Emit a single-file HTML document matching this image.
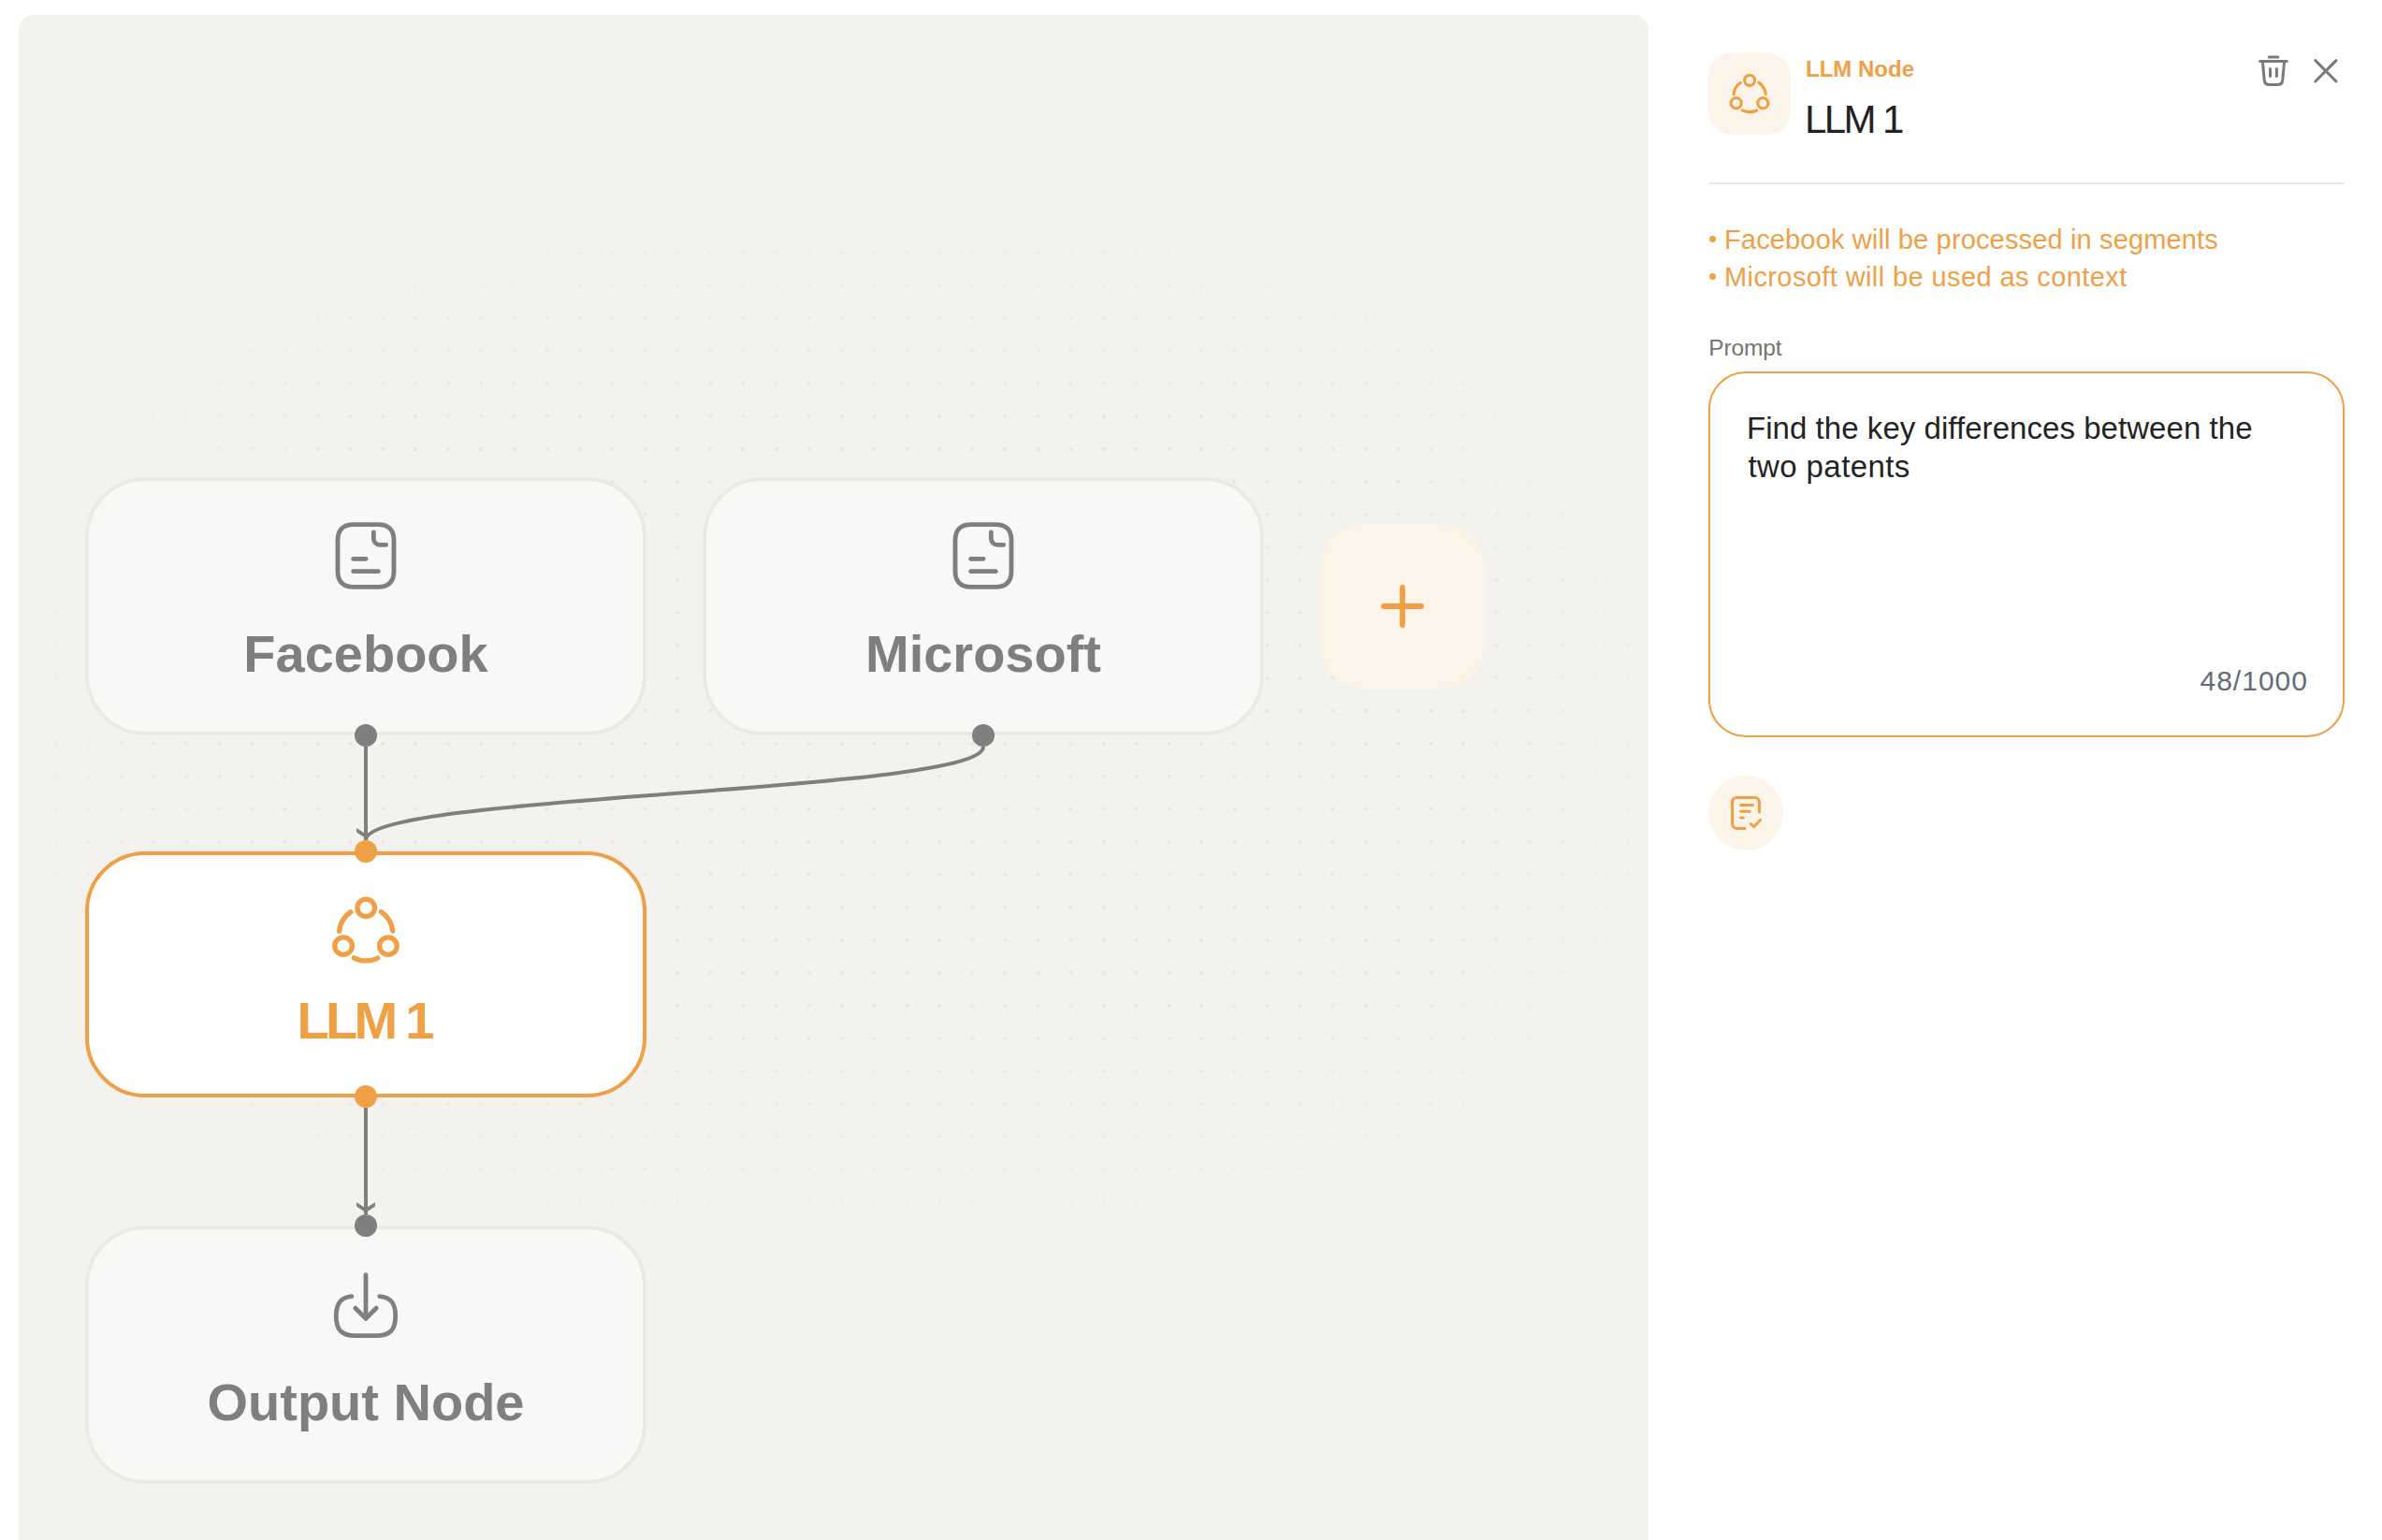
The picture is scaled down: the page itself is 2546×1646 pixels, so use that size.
<!DOCTYPE html>
<html>
<head>
<meta charset="utf-8">
<style>
html,body{margin:0;padding:0;}
body{width:2546px;height:1646px;overflow:hidden;background:#ffffff;position:relative;font-family:"Liberation Sans",sans-serif;}
.abs{position:absolute;}
#canvas{left:20px;top:16px;width:1742px;height:1650px;background:#F3F2EE;border-radius:16px 16px 0 0;overflow:hidden;}

.node{box-sizing:border-box;width:600px;height:276px;border:4px solid #EBE9E4;border-radius:64px;background:#F9F8F6;}
.ntxt{left:0;width:600px;text-align:center;font-weight:700;font-size:56px;line-height:56px;color:#7F7F7F;white-space:nowrap;}
svg{position:absolute;overflow:visible;}
</style>
</head>
<body>
<div id="canvas" class="abs"></div>
<svg id="dotsvg" style="left:0;top:0;" width="1762" height="1646" viewBox="0 0 1762 1646"><g fill="none" stroke="#E7E6E5" stroke-width="4.2" stroke-linecap="round"><path stroke-opacity="0.05" d="M269.5 269.8h0M1529.5 269.8h0M234.5 304.8h0M1564.5 304.8h0M1704.5 444.8h0M24.5 1039.8h0M59.5 1109.8h0M1739.5 1109.8h0M94.5 1144.8h0M1704.5 1144.8h0M199.5 1249.8h0M1599.5 1249.8h0M234.5 1284.8h0M1564.5 1284.8h0"/><path stroke-opacity="0.1" d="M304.5 269.8h0M339.5 269.8h0M1459.5 269.8h0M1494.5 269.8h0M269.5 304.8h0M1529.5 304.8h0M199.5 339.8h0M1599.5 339.8h0M164.5 374.8h0M1634.5 374.8h0M129.5 409.8h0M1669.5 409.8h0M94.5 444.8h0M59.5 514.8h0M1739.5 514.8h0M24.5 584.8h0M24.5 619.8h0M24.5 1004.8h0M59.5 1074.8h0M1739.5 1074.8h0M129.5 1179.8h0M1669.5 1179.8h0M164.5 1214.8h0M1634.5 1214.8h0M234.5 1249.8h0M1564.5 1249.8h0M269.5 1284.8h0M304.5 1284.8h0M1494.5 1284.8h0M1529.5 1284.8h0"/><path stroke-opacity="0.15" d="M374.5 269.8h0M1424.5 269.8h0M304.5 304.8h0M1494.5 304.8h0M234.5 339.8h0M1564.5 339.8h0M199.5 374.8h0M1599.5 374.8h0M94.5 479.8h0M1704.5 479.8h0M59.5 549.8h0M1739.5 549.8h0M24.5 654.8h0M24.5 934.8h0M24.5 969.8h0M59.5 1039.8h0M1739.5 1039.8h0M94.5 1109.8h0M1704.5 1109.8h0M129.5 1144.8h0M1669.5 1144.8h0M164.5 1179.8h0M1634.5 1179.8h0M199.5 1214.8h0M1599.5 1214.8h0M269.5 1249.8h0M1529.5 1249.8h0M339.5 1284.8h0M374.5 1284.8h0M1424.5 1284.8h0M1459.5 1284.8h0"/><path stroke-opacity="0.2" d="M409.5 269.8h0M444.5 269.8h0M1354.5 269.8h0M1389.5 269.8h0M339.5 304.8h0M1459.5 304.8h0M269.5 339.8h0M1529.5 339.8h0M164.5 409.8h0M1634.5 409.8h0M129.5 444.8h0M1669.5 444.8h0M94.5 514.8h0M1704.5 514.8h0M59.5 584.8h0M1739.5 584.8h0M24.5 689.8h0M24.5 724.8h0M24.5 759.8h0M24.5 794.8h0M24.5 829.8h0M24.5 864.8h0M24.5 899.8h0M59.5 1004.8h0M1739.5 1004.8h0M94.5 1074.8h0M1704.5 1074.8h0M199.5 1179.8h0M1599.5 1179.8h0M234.5 1214.8h0M1564.5 1214.8h0M304.5 1249.8h0M339.5 1249.8h0M1459.5 1249.8h0M1494.5 1249.8h0M409.5 1284.8h0M444.5 1284.8h0M479.5 1284.8h0M1319.5 1284.8h0M1354.5 1284.8h0M1389.5 1284.8h0"/><path stroke-opacity="0.25" d="M479.5 269.8h0M514.5 269.8h0M1284.5 269.8h0M1319.5 269.8h0M374.5 304.8h0M1424.5 304.8h0M304.5 339.8h0M1494.5 339.8h0M234.5 374.8h0M1564.5 374.8h0M1599.5 409.8h0M129.5 479.8h0M1669.5 479.8h0M94.5 549.8h0M1704.5 549.8h0M59.5 619.8h0M1739.5 619.8h0M1739.5 654.8h0M59.5 969.8h0M1739.5 969.8h0M129.5 1109.8h0M1669.5 1109.8h0M164.5 1144.8h0M1634.5 1144.8h0M269.5 1214.8h0M1529.5 1214.8h0M374.5 1249.8h0M1424.5 1249.8h0M514.5 1284.8h0M549.5 1284.8h0M1249.5 1284.8h0M1284.5 1284.8h0"/><path stroke-opacity="0.3" d="M549.5 269.8h0M584.5 269.8h0M1214.5 269.8h0M1249.5 269.8h0M409.5 304.8h0M1389.5 304.8h0M339.5 339.8h0M1459.5 339.8h0M269.5 374.8h0M1529.5 374.8h0M199.5 409.8h0M164.5 444.8h0M1634.5 444.8h0M1669.5 514.8h0M94.5 584.8h0M1704.5 584.8h0M59.5 654.8h0M59.5 689.8h0M1739.5 689.8h0M1739.5 724.8h0M59.5 899.8h0M1739.5 899.8h0M59.5 934.8h0M1739.5 934.8h0M94.5 1039.8h0M1704.5 1039.8h0M1669.5 1074.8h0M199.5 1144.8h0M1599.5 1144.8h0M234.5 1179.8h0M1564.5 1179.8h0M304.5 1214.8h0M1494.5 1214.8h0M409.5 1249.8h0M444.5 1249.8h0M1354.5 1249.8h0M1389.5 1249.8h0M584.5 1284.8h0M619.5 1284.8h0M654.5 1284.8h0M689.5 1284.8h0M724.5 1284.8h0M759.5 1284.8h0M794.5 1284.8h0M829.5 1284.8h0M864.5 1284.8h0M899.5 1284.8h0M934.5 1284.8h0M969.5 1284.8h0M1004.5 1284.8h0M1039.5 1284.8h0M1074.5 1284.8h0M1109.5 1284.8h0M1144.5 1284.8h0M1179.5 1284.8h0M1214.5 1284.8h0"/><path stroke-opacity="0.35" d="M619.5 269.8h0M654.5 269.8h0M689.5 269.8h0M1109.5 269.8h0M1144.5 269.8h0M1179.5 269.8h0M444.5 304.8h0M479.5 304.8h0M1319.5 304.8h0M1354.5 304.8h0M1424.5 339.8h0M234.5 409.8h0M1564.5 409.8h0M164.5 479.8h0M1634.5 479.8h0M129.5 514.8h0M94.5 619.8h0M1704.5 619.8h0M59.5 724.8h0M59.5 759.8h0M1739.5 759.8h0M59.5 794.8h0M1739.5 794.8h0M59.5 829.8h0M1739.5 829.8h0M59.5 864.8h0M1739.5 864.8h0M94.5 969.8h0M1704.5 969.8h0M94.5 1004.8h0M1704.5 1004.8h0M129.5 1074.8h0M164.5 1109.8h0M1634.5 1109.8h0M269.5 1179.8h0M1529.5 1179.8h0M339.5 1214.8h0M1459.5 1214.8h0M479.5 1249.8h0M1319.5 1249.8h0"/><path stroke-opacity="0.4" d="M724.5 269.8h0M759.5 269.8h0M794.5 269.8h0M829.5 269.8h0M864.5 269.8h0M899.5 269.8h0M934.5 269.8h0M969.5 269.8h0M1004.5 269.8h0M1039.5 269.8h0M1074.5 269.8h0M514.5 304.8h0M1284.5 304.8h0M374.5 339.8h0M304.5 374.8h0M1494.5 374.8h0M199.5 444.8h0M1599.5 444.8h0M129.5 549.8h0M1669.5 549.8h0M94.5 654.8h0M1704.5 654.8h0M1704.5 689.8h0M94.5 934.8h0M1704.5 934.8h0M129.5 1039.8h0M1669.5 1039.8h0M199.5 1109.8h0M1599.5 1109.8h0M234.5 1144.8h0M1564.5 1144.8h0M304.5 1179.8h0M1494.5 1179.8h0M374.5 1214.8h0M1389.5 1214.8h0M1424.5 1214.8h0M514.5 1249.8h0M549.5 1249.8h0M584.5 1249.8h0M619.5 1249.8h0M654.5 1249.8h0M689.5 1249.8h0M724.5 1249.8h0M759.5 1249.8h0M794.5 1249.8h0M829.5 1249.8h0M864.5 1249.8h0M899.5 1249.8h0M934.5 1249.8h0M969.5 1249.8h0M1004.5 1249.8h0M1039.5 1249.8h0M1074.5 1249.8h0M1109.5 1249.8h0M1144.5 1249.8h0M1179.5 1249.8h0M1214.5 1249.8h0M1249.5 1249.8h0M1284.5 1249.8h0"/><path stroke-opacity="0.45" d="M549.5 304.8h0M584.5 304.8h0M1214.5 304.8h0M1249.5 304.8h0M409.5 339.8h0M1389.5 339.8h0M339.5 374.8h0M1459.5 374.8h0M269.5 409.8h0M1529.5 409.8h0M164.5 514.8h0M1634.5 514.8h0M129.5 584.8h0M1669.5 584.8h0M94.5 689.8h0M94.5 724.8h0M1704.5 724.8h0M94.5 759.8h0M1704.5 759.8h0M94.5 794.8h0M1704.5 794.8h0M94.5 829.8h0M1704.5 829.8h0M94.5 864.8h0M1704.5 864.8h0M94.5 899.8h0M1704.5 899.8h0M129.5 1004.8h0M1669.5 1004.8h0M164.5 1074.8h0M1634.5 1074.8h0M269.5 1144.8h0M1529.5 1144.8h0M339.5 1179.8h0M1459.5 1179.8h0M409.5 1214.8h0M444.5 1214.8h0M1354.5 1214.8h0"/><path stroke-opacity="0.5" d="M619.5 304.8h0M654.5 304.8h0M689.5 304.8h0M724.5 304.8h0M759.5 304.8h0M794.5 304.8h0M829.5 304.8h0M864.5 304.8h0M899.5 304.8h0M934.5 304.8h0M969.5 304.8h0M1004.5 304.8h0M1039.5 304.8h0M1074.5 304.8h0M1109.5 304.8h0M1144.5 304.8h0M1179.5 304.8h0M444.5 339.8h0M1354.5 339.8h0M234.5 444.8h0M1564.5 444.8h0M199.5 479.8h0M1599.5 479.8h0M164.5 549.8h0M1634.5 549.8h0M129.5 619.8h0M1669.5 619.8h0M129.5 654.8h0M1669.5 654.8h0M129.5 969.8h0M1669.5 969.8h0M164.5 1039.8h0M1634.5 1039.8h0M234.5 1109.8h0M1564.5 1109.8h0M1424.5 1179.8h0M479.5 1214.8h0M514.5 1214.8h0M549.5 1214.8h0M584.5 1214.8h0M619.5 1214.8h0M654.5 1214.8h0M689.5 1214.8h0M724.5 1214.8h0M759.5 1214.8h0M794.5 1214.8h0M829.5 1214.8h0M864.5 1214.8h0M899.5 1214.8h0M934.5 1214.8h0M969.5 1214.8h0M1004.5 1214.8h0M1039.5 1214.8h0M1074.5 1214.8h0M1109.5 1214.8h0M1144.5 1214.8h0M1179.5 1214.8h0M1214.5 1214.8h0M1249.5 1214.8h0M1284.5 1214.8h0M1319.5 1214.8h0"/><path stroke-opacity="0.55" d="M479.5 339.8h0M514.5 339.8h0M1284.5 339.8h0M1319.5 339.8h0M374.5 374.8h0M1424.5 374.8h0M304.5 409.8h0M1494.5 409.8h0M199.5 514.8h0M1599.5 514.8h0M164.5 584.8h0M1634.5 584.8h0M129.5 689.8h0M1669.5 689.8h0M129.5 724.8h0M1669.5 724.8h0M1669.5 864.8h0M129.5 899.8h0M1669.5 899.8h0M129.5 934.8h0M1669.5 934.8h0M164.5 1004.8h0M1634.5 1004.8h0M199.5 1074.8h0M1599.5 1074.8h0M304.5 1144.8h0M1494.5 1144.8h0M374.5 1179.8h0"/><path stroke-opacity="0.6" d="M549.5 339.8h0M1249.5 339.8h0M409.5 374.8h0M1389.5 374.8h0M339.5 409.8h0M1459.5 409.8h0M269.5 444.8h0M1529.5 444.8h0M234.5 479.8h0M1564.5 479.8h0M199.5 549.8h0M1599.5 549.8h0M164.5 619.8h0M1634.5 619.8h0M129.5 759.8h0M1669.5 759.8h0M129.5 794.8h0M1669.5 794.8h0M129.5 829.8h0M1669.5 829.8h0M129.5 864.8h0M164.5 969.8h0M1634.5 969.8h0M269.5 1109.8h0M1529.5 1109.8h0M339.5 1144.8h0M1459.5 1144.8h0M409.5 1179.8h0M1389.5 1179.8h0"/><path stroke-opacity="0.65" d="M584.5 339.8h0M619.5 339.8h0M654.5 339.8h0M689.5 339.8h0M724.5 339.8h0M759.5 339.8h0M794.5 339.8h0M829.5 339.8h0M864.5 339.8h0M899.5 339.8h0M934.5 339.8h0M969.5 339.8h0M1004.5 339.8h0M1039.5 339.8h0M1074.5 339.8h0M1109.5 339.8h0M1144.5 339.8h0M1179.5 339.8h0M1214.5 339.8h0M444.5 374.8h0M1354.5 374.8h0M234.5 514.8h0M1564.5 514.8h0M199.5 584.8h0M1599.5 584.8h0M164.5 654.8h0M1634.5 654.8h0M164.5 689.8h0M1634.5 689.8h0M164.5 934.8h0M1634.5 934.8h0M199.5 1039.8h0M1599.5 1039.8h0M234.5 1074.8h0M1564.5 1074.8h0M444.5 1179.8h0M479.5 1179.8h0M514.5 1179.8h0M549.5 1179.8h0M584.5 1179.8h0M619.5 1179.8h0M654.5 1179.8h0M689.5 1179.8h0M724.5 1179.8h0M759.5 1179.8h0M794.5 1179.8h0M829.5 1179.8h0M864.5 1179.8h0M899.5 1179.8h0M934.5 1179.8h0M969.5 1179.8h0M1004.5 1179.8h0M1039.5 1179.8h0M1074.5 1179.8h0M1109.5 1179.8h0M1144.5 1179.8h0M1179.5 1179.8h0M1214.5 1179.8h0M1249.5 1179.8h0M1284.5 1179.8h0M1319.5 1179.8h0M1354.5 1179.8h0"/><path stroke-opacity="0.7" d="M479.5 374.8h0M1319.5 374.8h0M374.5 409.8h0M1424.5 409.8h0M304.5 444.8h0M1494.5 444.8h0M269.5 479.8h0M1529.5 479.8h0M199.5 619.8h0M1599.5 619.8h0M164.5 724.8h0M1634.5 724.8h0M164.5 759.8h0M1634.5 759.8h0M164.5 794.8h0M1634.5 794.8h0M164.5 829.8h0M1634.5 829.8h0M164.5 864.8h0M1634.5 864.8h0M164.5 899.8h0M1634.5 899.8h0M199.5 1004.8h0M1599.5 1004.8h0M304.5 1109.8h0M1494.5 1109.8h0M374.5 1144.8h0M1424.5 1144.8h0"/><path stroke-opacity="0.75" d="M514.5 374.8h0M549.5 374.8h0M584.5 374.8h0M619.5 374.8h0M654.5 374.8h0M689.5 374.8h0M724.5 374.8h0M759.5 374.8h0M794.5 374.8h0M829.5 374.8h0M864.5 374.8h0M899.5 374.8h0M934.5 374.8h0M969.5 374.8h0M1004.5 374.8h0M1039.5 374.8h0M1074.5 374.8h0M1109.5 374.8h0M1144.5 374.8h0M1179.5 374.8h0M1214.5 374.8h0M1249.5 374.8h0M1284.5 374.8h0M269.5 514.8h0M1529.5 514.8h0M234.5 549.8h0M1564.5 549.8h0M199.5 654.8h0M1599.5 654.8h0M199.5 934.8h0M1599.5 934.8h0M199.5 969.8h0M1599.5 969.8h0M234.5 1039.8h0M1564.5 1039.8h0M269.5 1074.8h0M1529.5 1074.8h0M409.5 1144.8h0M444.5 1144.8h0M479.5 1144.8h0M514.5 1144.8h0M549.5 1144.8h0M584.5 1144.8h0M619.5 1144.8h0M654.5 1144.8h0M689.5 1144.8h0M724.5 1144.8h0M759.5 1144.8h0M794.5 1144.8h0M829.5 1144.8h0M864.5 1144.8h0M899.5 1144.8h0M934.5 1144.8h0M969.5 1144.8h0M1004.5 1144.8h0M1039.5 1144.8h0M1074.5 1144.8h0M1109.5 1144.8h0M1144.5 1144.8h0M1179.5 1144.8h0M1214.5 1144.8h0M1249.5 1144.8h0M1284.5 1144.8h0M1319.5 1144.8h0M1354.5 1144.8h0M1389.5 1144.8h0"/><path stroke-opacity="0.8" d="M409.5 409.8h0M1389.5 409.8h0M339.5 444.8h0M1459.5 444.8h0M304.5 479.8h0M1494.5 479.8h0M234.5 584.8h0M1564.5 584.8h0M199.5 689.8h0M1599.5 689.8h0M199.5 724.8h0M1599.5 724.8h0M1599.5 864.8h0M199.5 899.8h0M1599.5 899.8h0M234.5 1004.8h0M1564.5 1004.8h0M339.5 1109.8h0M1459.5 1109.8h0"/><path stroke-opacity="0.85" d="M444.5 409.8h0M479.5 409.8h0M514.5 409.8h0M549.5 409.8h0M584.5 409.8h0M619.5 409.8h0M654.5 409.8h0M689.5 409.8h0M724.5 409.8h0M759.5 409.8h0M794.5 409.8h0M829.5 409.8h0M864.5 409.8h0M899.5 409.8h0M934.5 409.8h0M969.5 409.8h0M1004.5 409.8h0M1039.5 409.8h0M1074.5 409.8h0M1109.5 409.8h0M1144.5 409.8h0M1179.5 409.8h0M1214.5 409.8h0M1249.5 409.8h0M1284.5 409.8h0M1319.5 409.8h0M1354.5 409.8h0M269.5 549.8h0M1529.5 549.8h0M234.5 619.8h0M1564.5 619.8h0M199.5 759.8h0M1599.5 759.8h0M199.5 794.8h0M1599.5 794.8h0M199.5 829.8h0M1599.5 829.8h0M199.5 864.8h0M234.5 969.8h0M1564.5 969.8h0M269.5 1039.8h0M1529.5 1039.8h0M304.5 1074.8h0M1494.5 1074.8h0M374.5 1109.8h0M409.5 1109.8h0M444.5 1109.8h0M479.5 1109.8h0M514.5 1109.8h0M549.5 1109.8h0M584.5 1109.8h0M619.5 1109.8h0M654.5 1109.8h0M689.5 1109.8h0M724.5 1109.8h0M759.5 1109.8h0M794.5 1109.8h0M829.5 1109.8h0M864.5 1109.8h0M899.5 1109.8h0M934.5 1109.8h0M969.5 1109.8h0M1004.5 1109.8h0M1039.5 1109.8h0M1074.5 1109.8h0M1109.5 1109.8h0M1144.5 1109.8h0M1179.5 1109.8h0M1214.5 1109.8h0M1249.5 1109.8h0M1284.5 1109.8h0M1319.5 1109.8h0M1354.5 1109.8h0M1389.5 1109.8h0M1424.5 1109.8h0"/><path stroke-opacity="0.9" d="M374.5 444.8h0M1424.5 444.8h0M339.5 479.8h0M1459.5 479.8h0M304.5 514.8h0M1494.5 514.8h0M269.5 584.8h0M1529.5 584.8h0M234.5 654.8h0M1564.5 654.8h0M234.5 689.8h0M1564.5 689.8h0M1564.5 899.8h0M234.5 934.8h0M1564.5 934.8h0M269.5 1004.8h0M1529.5 1004.8h0"/><path stroke-opacity="0.95" d="M304.5 549.8h0M1494.5 549.8h0M269.5 619.8h0M1529.5 619.8h0M234.5 724.8h0M1564.5 724.8h0M234.5 759.8h0M1564.5 759.8h0M234.5 794.8h0M1564.5 794.8h0M234.5 829.8h0M1564.5 829.8h0M234.5 864.8h0M1564.5 864.8h0M234.5 899.8h0M269.5 969.8h0M1529.5 969.8h0M304.5 1039.8h0M1494.5 1039.8h0M339.5 1074.8h0M374.5 1074.8h0M409.5 1074.8h0M444.5 1074.8h0M479.5 1074.8h0M514.5 1074.8h0M549.5 1074.8h0M584.5 1074.8h0M619.5 1074.8h0M654.5 1074.8h0M689.5 1074.8h0M724.5 1074.8h0M759.5 1074.8h0M794.5 1074.8h0M829.5 1074.8h0M864.5 1074.8h0M899.5 1074.8h0M934.5 1074.8h0M969.5 1074.8h0M1004.5 1074.8h0M1039.5 1074.8h0M1074.5 1074.8h0M1109.5 1074.8h0M1144.5 1074.8h0M1179.5 1074.8h0M1214.5 1074.8h0M1249.5 1074.8h0M1284.5 1074.8h0M1319.5 1074.8h0M1354.5 1074.8h0M1389.5 1074.8h0M1424.5 1074.8h0M1459.5 1074.8h0"/><path stroke-opacity="1" d="M409.5 444.8h0M444.5 444.8h0M479.5 444.8h0M514.5 444.8h0M549.5 444.8h0M584.5 444.8h0M619.5 444.8h0M654.5 444.8h0M689.5 444.8h0M724.5 444.8h0M759.5 444.8h0M794.5 444.8h0M829.5 444.8h0M864.5 444.8h0M899.5 444.8h0M934.5 444.8h0M969.5 444.8h0M1004.5 444.8h0M1039.5 444.8h0M1074.5 444.8h0M1109.5 444.8h0M1144.5 444.8h0M1179.5 444.8h0M1214.5 444.8h0M1249.5 444.8h0M1284.5 444.8h0M1319.5 444.8h0M1354.5 444.8h0M1389.5 444.8h0M374.5 479.8h0M409.5 479.8h0M444.5 479.8h0M479.5 479.8h0M514.5 479.8h0M549.5 479.8h0M584.5 479.8h0M619.5 479.8h0M654.5 479.8h0M689.5 479.8h0M724.5 479.8h0M759.5 479.8h0M794.5 479.8h0M829.5 479.8h0M864.5 479.8h0M899.5 479.8h0M934.5 479.8h0M969.5 479.8h0M1004.5 479.8h0M1039.5 479.8h0M1074.5 479.8h0M1109.5 479.8h0M1144.5 479.8h0M1179.5 479.8h0M1214.5 479.8h0M1249.5 479.8h0M1284.5 479.8h0M1319.5 479.8h0M1354.5 479.8h0M1389.5 479.8h0M1424.5 479.8h0M339.5 514.8h0M374.5 514.8h0M409.5 514.8h0M444.5 514.8h0M479.5 514.8h0M514.5 514.8h0M549.5 514.8h0M584.5 514.8h0M619.5 514.8h0M654.5 514.8h0M689.5 514.8h0M724.5 514.8h0M759.5 514.8h0M794.5 514.8h0M829.5 514.8h0M864.5 514.8h0M899.5 514.8h0M934.5 514.8h0M969.5 514.8h0M1004.5 514.8h0M1039.5 514.8h0M1074.5 514.8h0M1109.5 514.8h0M1144.5 514.8h0M1179.5 514.8h0M1214.5 514.8h0M1249.5 514.8h0M1284.5 514.8h0M1319.5 514.8h0M1354.5 514.8h0M1389.5 514.8h0M1424.5 514.8h0M1459.5 514.8h0M339.5 549.8h0M374.5 549.8h0M409.5 549.8h0M444.5 549.8h0M479.5 549.8h0M514.5 549.8h0M549.5 549.8h0M584.5 549.8h0M619.5 549.8h0M654.5 549.8h0M689.5 549.8h0M724.5 549.8h0M759.5 549.8h0M794.5 549.8h0M829.5 549.8h0M864.5 549.8h0M899.5 549.8h0M934.5 549.8h0M969.5 549.8h0M1004.5 549.8h0M1039.5 549.8h0M1074.5 549.8h0M1109.5 549.8h0M1144.5 549.8h0M1179.5 549.8h0M1214.5 549.8h0M1249.5 549.8h0M1284.5 549.8h0M1319.5 549.8h0M1354.5 549.8h0M1389.5 549.8h0M1424.5 549.8h0M1459.5 549.8h0M304.5 584.8h0M339.5 584.8h0M374.5 584.8h0M409.5 584.8h0M444.5 584.8h0M479.5 584.8h0M514.5 584.8h0M549.5 584.8h0M584.5 584.8h0M619.5 584.8h0M654.5 584.8h0M689.5 584.8h0M724.5 584.8h0M759.5 584.8h0M794.5 584.8h0M829.5 584.8h0M864.5 584.8h0M899.5 584.8h0M934.5 584.8h0M969.5 584.8h0M1004.5 584.8h0M1039.5 584.8h0M1074.5 584.8h0M1109.5 584.8h0M1144.5 584.8h0M1179.5 584.8h0M1214.5 584.8h0M1249.5 584.8h0M1284.5 584.8h0M1319.5 584.8h0M1354.5 584.8h0M1389.5 584.8h0M1424.5 584.8h0M1459.5 584.8h0M1494.5 584.8h0M304.5 619.8h0M339.5 619.8h0M374.5 619.8h0M409.5 619.8h0M444.5 619.8h0M479.5 619.8h0M514.5 619.8h0M549.5 619.8h0M584.5 619.8h0M619.5 619.8h0M654.5 619.8h0M689.5 619.8h0M724.5 619.8h0M759.5 619.8h0M794.5 619.8h0M829.5 619.8h0M864.5 619.8h0M899.5 619.8h0M934.5 619.8h0M969.5 619.8h0M1004.5 619.8h0M1039.5 619.8h0M1074.5 619.8h0M1109.5 619.8h0M1144.5 619.8h0M1179.5 619.8h0M1214.5 619.8h0M1249.5 619.8h0M1284.5 619.8h0M1319.5 619.8h0M1354.5 619.8h0M1389.5 619.8h0M1424.5 619.8h0M1459.5 619.8h0M1494.5 619.8h0M269.5 654.8h0M304.5 654.8h0M339.5 654.8h0M374.5 654.8h0M409.5 654.8h0M444.5 654.8h0M479.5 654.8h0M514.5 654.8h0M549.5 654.8h0M584.5 654.8h0M619.5 654.8h0M654.5 654.8h0M689.5 654.8h0M724.5 654.8h0M759.5 654.8h0M794.5 654.8h0M829.5 654.8h0M864.5 654.8h0M899.5 654.8h0M934.5 654.8h0M969.5 654.8h0M1004.5 654.8h0M1039.5 654.8h0M1074.5 654.8h0M1109.5 654.8h0M1144.5 654.8h0M1179.5 654.8h0M1214.5 654.8h0M1249.5 654.8h0M1284.5 654.8h0M1319.5 654.8h0M1354.5 654.8h0M1389.5 654.8h0M1424.5 654.8h0M1459.5 654.8h0M1494.5 654.8h0M1529.5 654.8h0M269.5 689.8h0M304.5 689.8h0M339.5 689.8h0M374.5 689.8h0M409.5 689.8h0M444.5 689.8h0M479.5 689.8h0M514.5 689.8h0M549.5 689.8h0M584.5 689.8h0M619.5 689.8h0M654.5 689.8h0M689.5 689.8h0M724.5 689.8h0M759.5 689.8h0M794.5 689.8h0M829.5 689.8h0M864.5 689.8h0M899.5 689.8h0M934.5 689.8h0M969.5 689.8h0M1004.5 689.8h0M1039.5 689.8h0M1074.5 689.8h0M1109.5 689.8h0M1144.5 689.8h0M1179.5 689.8h0M1214.5 689.8h0M1249.5 689.8h0M1284.5 689.8h0M1319.5 689.8h0M1354.5 689.8h0M1389.5 689.8h0M1424.5 689.8h0M1459.5 689.8h0M1494.5 689.8h0M1529.5 689.8h0M269.5 724.8h0M304.5 724.8h0M339.5 724.8h0M374.5 724.8h0M409.5 724.8h0M444.5 724.8h0M479.5 724.8h0M514.5 724.8h0M549.5 724.8h0M584.5 724.8h0M619.5 724.8h0M654.5 724.8h0M689.5 724.8h0M724.5 724.8h0M759.5 724.8h0M794.5 724.8h0M829.5 724.8h0M864.5 724.8h0M899.5 724.8h0M934.5 724.8h0M969.5 724.8h0M1004.5 724.8h0M1039.5 724.8h0M1074.5 724.8h0M1109.5 724.8h0M1144.5 724.8h0M1179.5 724.8h0M1214.5 724.8h0M1249.5 724.8h0M1284.5 724.8h0M1319.5 724.8h0M1354.5 724.8h0M1389.5 724.8h0M1424.5 724.8h0M1459.5 724.8h0M1494.5 724.8h0M1529.5 724.8h0M269.5 759.8h0M304.5 759.8h0M339.5 759.8h0M374.5 759.8h0M409.5 759.8h0M444.5 759.8h0M479.5 759.8h0M514.5 759.8h0M549.5 759.8h0M584.5 759.8h0M619.5 759.8h0M654.5 759.8h0M689.5 759.8h0M724.5 759.8h0M759.5 759.8h0M794.5 759.8h0M829.5 759.8h0M864.5 759.8h0M899.5 759.8h0M934.5 759.8h0M969.5 759.8h0M1004.5 759.8h0M1039.5 759.8h0M1074.5 759.8h0M1109.5 759.8h0M1144.5 759.8h0M1179.5 759.8h0M1214.5 759.8h0M1249.5 759.8h0M1284.5 759.8h0M1319.5 759.8h0M1354.5 759.8h0M1389.5 759.8h0M1424.5 759.8h0M1459.5 759.8h0M1494.5 759.8h0M1529.5 759.8h0M269.5 794.8h0M304.5 794.8h0M339.5 794.8h0M374.5 794.8h0M409.5 794.8h0M444.5 794.8h0M479.5 794.8h0M514.5 794.8h0M549.5 794.8h0M584.5 794.8h0M619.5 794.8h0M654.5 794.8h0M689.5 794.8h0M724.5 794.8h0M759.5 794.8h0M794.5 794.8h0M829.5 794.8h0M864.5 794.8h0M899.5 794.8h0M934.5 794.8h0M969.5 794.8h0M1004.5 794.8h0M1039.5 794.8h0M1074.5 794.8h0M1109.5 794.8h0M1144.5 794.8h0M1179.5 794.8h0M1214.5 794.8h0M1249.5 794.8h0M1284.5 794.8h0M1319.5 794.8h0M1354.5 794.8h0M1389.5 794.8h0M1424.5 794.8h0M1459.5 794.8h0M1494.5 794.8h0M1529.5 794.8h0M269.5 829.8h0M304.5 829.8h0M339.5 829.8h0M374.5 829.8h0M409.5 829.8h0M444.5 829.8h0M479.5 829.8h0M514.5 829.8h0M549.5 829.8h0M584.5 829.8h0M619.5 829.8h0M654.5 829.8h0M689.5 829.8h0M724.5 829.8h0M759.5 829.8h0M794.5 829.8h0M829.5 829.8h0M864.5 829.8h0M899.5 829.8h0M934.5 829.8h0M969.5 829.8h0M1004.5 829.8h0M1039.5 829.8h0M1074.5 829.8h0M1109.5 829.8h0M1144.5 829.8h0M1179.5 829.8h0M1214.5 829.8h0M1249.5 829.8h0M1284.5 829.8h0M1319.5 829.8h0M1354.5 829.8h0M1389.5 829.8h0M1424.5 829.8h0M1459.5 829.8h0M1494.5 829.8h0M1529.5 829.8h0M269.5 864.8h0M304.5 864.8h0M339.5 864.8h0M374.5 864.8h0M409.5 864.8h0M444.5 864.8h0M479.5 864.8h0M514.5 864.8h0M549.5 864.8h0M584.5 864.8h0M619.5 864.8h0M654.5 864.8h0M689.5 864.8h0M724.5 864.8h0M759.5 864.8h0M794.5 864.8h0M829.5 864.8h0M864.5 864.8h0M899.5 864.8h0M934.5 864.8h0M969.5 864.8h0M1004.5 864.8h0M1039.5 864.8h0M1074.5 864.8h0M1109.5 864.8h0M1144.5 864.8h0M1179.5 864.8h0M1214.5 864.8h0M1249.5 864.8h0M1284.5 864.8h0M1319.5 864.8h0M1354.5 864.8h0M1389.5 864.8h0M1424.5 864.8h0M1459.5 864.8h0M1494.5 864.8h0M1529.5 864.8h0M269.5 899.8h0M304.5 899.8h0M339.5 899.8h0M374.5 899.8h0M409.5 899.8h0M444.5 899.8h0M479.5 899.8h0M514.5 899.8h0M549.5 899.8h0M584.5 899.8h0M619.5 899.8h0M654.5 899.8h0M689.5 899.8h0M724.5 899.8h0M759.5 899.8h0M794.5 899.8h0M829.5 899.8h0M864.5 899.8h0M899.5 899.8h0M934.5 899.8h0M969.5 899.8h0M1004.5 899.8h0M1039.5 899.8h0M1074.5 899.8h0M1109.5 899.8h0M1144.5 899.8h0M1179.5 899.8h0M1214.5 899.8h0M1249.5 899.8h0M1284.5 899.8h0M1319.5 899.8h0M1354.5 899.8h0M1389.5 899.8h0M1424.5 899.8h0M1459.5 899.8h0M1494.5 899.8h0M1529.5 899.8h0M269.5 934.8h0M304.5 934.8h0M339.5 934.8h0M374.5 934.8h0M409.5 934.8h0M444.5 934.8h0M479.5 934.8h0M514.5 934.8h0M549.5 934.8h0M584.5 934.8h0M619.5 934.8h0M654.5 934.8h0M689.5 934.8h0M724.5 934.8h0M759.5 934.8h0M794.5 934.8h0M829.5 934.8h0M864.5 934.8h0M899.5 934.8h0M934.5 934.8h0M969.5 934.8h0M1004.5 934.8h0M1039.5 934.8h0M1074.5 934.8h0M1109.5 934.8h0M1144.5 934.8h0M1179.5 934.8h0M1214.5 934.8h0M1249.5 934.8h0M1284.5 934.8h0M1319.5 934.8h0M1354.5 934.8h0M1389.5 934.8h0M1424.5 934.8h0M1459.5 934.8h0M1494.5 934.8h0M1529.5 934.8h0M304.5 969.8h0M339.5 969.8h0M374.5 969.8h0M409.5 969.8h0M444.5 969.8h0M479.5 969.8h0M514.5 969.8h0M549.5 969.8h0M584.5 969.8h0M619.5 969.8h0M654.5 969.8h0M689.5 969.8h0M724.5 969.8h0M759.5 969.8h0M794.5 969.8h0M829.5 969.8h0M864.5 969.8h0M899.5 969.8h0M934.5 969.8h0M969.5 969.8h0M1004.5 969.8h0M1039.5 969.8h0M1074.5 969.8h0M1109.5 969.8h0M1144.5 969.8h0M1179.5 969.8h0M1214.5 969.8h0M1249.5 969.8h0M1284.5 969.8h0M1319.5 969.8h0M1354.5 969.8h0M1389.5 969.8h0M1424.5 969.8h0M1459.5 969.8h0M1494.5 969.8h0M304.5 1004.8h0M339.5 1004.8h0M374.5 1004.8h0M409.5 1004.8h0M444.5 1004.8h0M479.5 1004.8h0M514.5 1004.8h0M549.5 1004.8h0M584.5 1004.8h0M619.5 1004.8h0M654.5 1004.8h0M689.5 1004.8h0M724.5 1004.8h0M759.5 1004.8h0M794.5 1004.8h0M829.5 1004.8h0M864.5 1004.8h0M899.5 1004.8h0M934.5 1004.8h0M969.5 1004.8h0M1004.5 1004.8h0M1039.5 1004.8h0M1074.5 1004.8h0M1109.5 1004.8h0M1144.5 1004.8h0M1179.5 1004.8h0M1214.5 1004.8h0M1249.5 1004.8h0M1284.5 1004.8h0M1319.5 1004.8h0M1354.5 1004.8h0M1389.5 1004.8h0M1424.5 1004.8h0M1459.5 1004.8h0M1494.5 1004.8h0M339.5 1039.8h0M374.5 1039.8h0M409.5 1039.8h0M444.5 1039.8h0M479.5 1039.8h0M514.5 1039.8h0M549.5 1039.8h0M584.5 1039.8h0M619.5 1039.8h0M654.5 1039.8h0M689.5 1039.8h0M724.5 1039.8h0M759.5 1039.8h0M794.5 1039.8h0M829.5 1039.8h0M864.5 1039.8h0M899.5 1039.8h0M934.5 1039.8h0M969.5 1039.8h0M1004.5 1039.8h0M1039.5 1039.8h0M1074.5 1039.8h0M1109.5 1039.8h0M1144.5 1039.8h0M1179.5 1039.8h0M1214.5 1039.8h0M1249.5 1039.8h0M1284.5 1039.8h0M1319.5 1039.8h0M1354.5 1039.8h0M1389.5 1039.8h0M1424.5 1039.8h0M1459.5 1039.8h0"/></g></svg>

<!-- edges (under nodes) -->
<svg class="abs" style="left:0;top:0;" width="2546" height="1646" viewBox="0 0 2546 1646">
  <g fill="none" stroke="#7F7F7F" stroke-width="4">
    <path d="M391 798 V898"/>
    <path d="M1051 798 C1051 848 391 848 391 898"/>
    <path d="M391 1184 V1298"/>
  </g>
</svg>

<!-- nodes -->
<div class="abs node" style="left:91px;top:510px;"></div>
<div class="abs node" style="left:751px;top:510px;"></div>
<div class="abs node" style="left:91px;top:910px;height:263px;border-color:#EFA045;background:#ffffff;"></div>
<div class="abs node" style="left:91px;top:1310px;"></div>

<!-- plus button -->
<div class="abs" style="left:1411px;top:560px;width:176px;height:176px;border-radius:48px;background:#FDF4E9;"></div>
<svg style="left:1411px;top:560px;" width="176" height="176" viewBox="0 0 176 176">
  <g stroke="#EFA045" stroke-width="5.8" stroke-linecap="round"><path d="M88 68 V108"/><path d="M68 88 H108"/></g>
</svg>

<!-- arrows + handles -->
<svg class="abs" style="left:0;top:0;" width="2546" height="1646" viewBox="0 0 2546 1646">
  <g fill="#7F7F7F" stroke="none">
    <polygon points="381.1,885 391,891.5 391,896 381.1,889.6"/>
    <polygon points="381.1,1285 391,1291.5 400.9,1285 400.9,1289.6 391,1296 381.1,1289.6"/>
  </g>
  <circle cx="391" cy="786" r="12" fill="#7F7F7F"/>
  <circle cx="1051" cy="786" r="12" fill="#7F7F7F"/>
  <circle cx="391" cy="910" r="12" fill="#EFA045"/>
  <circle cx="391" cy="1172" r="12" fill="#EFA045"/>
  <circle cx="391" cy="1310" r="12" fill="#7F7F7F"/>
</svg>

<!-- node icons -->
<svg style="left:351px;top:554px;" width="80" height="80" viewBox="0 0 24 24" fill="none" stroke="#7F7F7F" stroke-width="1.45" stroke-linecap="round" stroke-linejoin="round">
  <path d="M21 7V17C21 20 19.5 22 16 22H8C4.5 22 3 20 3 17V7C3 4 4.5 2 8 2H16C19.5 2 21 4 21 7Z"/>
  <path d="M14.5 4.5V6.5C14.5 7.6 15.4 8.5 16.5 8.5H18.5"/>
  <path d="M8 13H12"/><path d="M8 17H16"/>
</svg>
<svg style="left:1011px;top:554px;" width="80" height="80" viewBox="0 0 24 24" fill="none" stroke="#7F7F7F" stroke-width="1.45" stroke-linecap="round" stroke-linejoin="round">
  <path d="M21 7V17C21 20 19.5 22 16 22H8C4.5 22 3 20 3 17V7C3 4 4.5 2 8 2H16C19.5 2 21 4 21 7Z"/>
  <path d="M14.5 4.5V6.5C14.5 7.6 15.4 8.5 16.5 8.5H18.5"/>
  <path d="M8 13H12"/><path d="M8 17H16"/>
</svg>
<svg style="left:351px;top:954px;" width="80" height="80" viewBox="0 0 24 24" fill="none" stroke="#EFA045" stroke-width="1.6" stroke-linecap="round" stroke-linejoin="round">
  <path d="M16.96 6.17C18.96 7.56 20.34 9.77 20.62 12.32"/>
  <path d="M3.49 12.37C3.75 9.83 5.11 7.62 7.09 6.22"/>
  <path d="M8.19 20.94C9.35 21.53 10.67 21.86 12.06 21.86C13.4 21.86 14.66 21.56 15.79 21.01"/>
  <circle cx="12.06" cy="4.92" r="2.78"/>
  <circle cx="4.83" cy="17.14" r="2.78"/>
  <circle cx="19.17" cy="17.14" r="2.78"/>
</svg>
<svg style="left:351px;top:1355.5px;" width="80" height="80" viewBox="0 0 24 24" fill="none" stroke="#7F7F7F" stroke-width="1.45" stroke-linecap="round" stroke-linejoin="round">
  <path d="M16.44 8.9C20.04 9.21 21.51 11.06 21.51 15.11V15.24C21.51 19.71 19.72 21.5 15.25 21.5H8.74C4.27 21.5 2.48 19.71 2.48 15.24V15.11C2.48 11.09 3.93 9.24 7.47 8.91"/>
  <path d="M12 2V14.88"/>
  <path d="M15.35 12.65L12 16L8.65 12.65"/>
</svg>

<!-- node texts -->
<div class="abs ntxt" style="left:91px;top:670.6px;">Facebook</div>
<div class="abs ntxt" style="left:751px;top:671px;">Microsoft</div>
<div class="abs ntxt" style="left:91px;top:1062.6px;color:#EFA045;letter-spacing:-3.7px;text-indent:-3.7px;">LLM 1</div>
<div class="abs ntxt" style="left:91px;top:1470.6px;">Output Node</div>

<!-- ===== right panel ===== -->
<div class="abs" style="left:1826px;top:56px;width:88px;height:88px;border-radius:26px;background:#FDF4E9;"></div>
<svg style="left:1846px;top:76px;" width="48" height="48" viewBox="0 0 24 24" fill="none" stroke="#EFA045" stroke-width="1.6" stroke-linecap="round" stroke-linejoin="round">
  <path d="M16.96 6.17C18.96 7.56 20.34 9.77 20.62 12.32"/>
  <path d="M3.49 12.37C3.75 9.83 5.11 7.62 7.09 6.22"/>
  <path d="M8.19 20.94C9.35 21.53 10.67 21.86 12.06 21.86C13.4 21.86 14.66 21.56 15.79 21.01"/>
  <circle cx="12.06" cy="4.92" r="2.78"/>
  <circle cx="4.83" cy="17.14" r="2.78"/>
  <circle cx="19.17" cy="17.14" r="2.78"/>
</svg>
<div class="abs" style="left:1930px;top:61.8px;font-size:24px;line-height:24px;font-weight:700;color:#EFA045;white-space:nowrap;">LLM Node</div>
<div class="abs" style="left:1929px;top:107.2px;font-size:42px;line-height:42px;font-weight:400;color:#222222;letter-spacing:-2.6px;white-space:nowrap;">LLM 1</div>

<!-- trash -->
<svg style="left:0;top:0;" width="2546" height="200" viewBox="0 0 2546 200" fill="none" stroke="#7A7A7A" stroke-width="3" stroke-linecap="round" stroke-linejoin="round">
  <path d="M2425.2 60.9H2434.8"/>
  <path d="M2415.6 65.6H2444.3"/>
  <path d="M2418.4 65.6L2420.2 85.5C2420.5 89 2422.5 90.6 2426 90.6H2434C2437.5 90.6 2439.5 89 2439.8 85.5L2441.6 65.6"/>
  <path d="M2426.5 73.5V81.5"/><path d="M2433.4 73.5V81.5"/>
  <path d="M2474.8 64.6L2497 87"/><path d="M2497 64.6L2474.8 87"/>
</svg>

<div class="abs" style="left:1826px;top:195px;width:680px;height:2px;background:#E8E8E8;"></div>

<!-- bullets -->
<div class="abs" style="left:1827.2px;top:252.3px;width:7px;height:7px;border-radius:50%;background:#EFA045;"></div>
<div class="abs" style="left:1827.2px;top:292.3px;width:7px;height:7px;border-radius:50%;background:#EFA045;"></div>
<div class="abs" style="left:1843px;top:242.4px;font-size:29px;line-height:29px;color:#EFA045;letter-spacing:0.15px;white-space:nowrap;">Facebook will be processed in segments</div>
<div class="abs" style="left:1843px;top:282.2px;font-size:29px;line-height:29px;color:#EFA045;letter-spacing:0.4px;white-space:nowrap;">Microsoft will be used as context</div>

<div class="abs" style="left:1826.3px;top:360.3px;font-size:24.5px;line-height:24.5px;color:#737373;letter-spacing:-0.15px;white-space:nowrap;">Prompt</div>

<div class="abs" style="left:1826px;top:397px;width:680px;height:391px;box-sizing:border-box;border:2px solid #EFA045;border-radius:40px;background:#fff;"></div>
<div class="abs" style="left:1867px;top:437.4px;font-size:33px;line-height:41px;color:#232323;letter-spacing:0.05px;white-space:nowrap;">Find the key differences between the</div>
<div class="abs" style="left:1868.5px;top:478.4px;font-size:33px;line-height:41px;color:#232323;letter-spacing:0.4px;white-space:nowrap;">two patents</div>
<div class="abs" style="left:2351.5px;top:712.6px;font-size:30px;line-height:30px;color:#646B78;letter-spacing:1px;white-space:nowrap;">48/1000</div>

<div class="abs" style="left:1826px;top:829px;width:80px;height:80px;border-radius:50%;background:#FDF4E9;"></div>
<svg style="left:1px;top:0;" width="2546" height="1000" viewBox="0 0 2546 1000" fill="none" stroke="#EFA045" stroke-width="3" stroke-linecap="round" stroke-linejoin="round">
  <path d="M1864 885.4H1855.5C1852.5 885.4 1850.5 883.4 1850.5 880.4V857.4C1850.5 854.4 1852.5 852.4 1855.5 852.4H1874.4C1877.4 852.4 1879.4 854.4 1879.4 857.4V868"/>
  <path d="M1859.7 860.6H1872.5"/><path d="M1859.7 867.2H1869.1"/><path d="M1859.7 873.9H1862.4"/>
  <path d="M1870.4 880.6L1873.7 883.7L1880.7 876.3"/>
</svg>

</body>
</html>
